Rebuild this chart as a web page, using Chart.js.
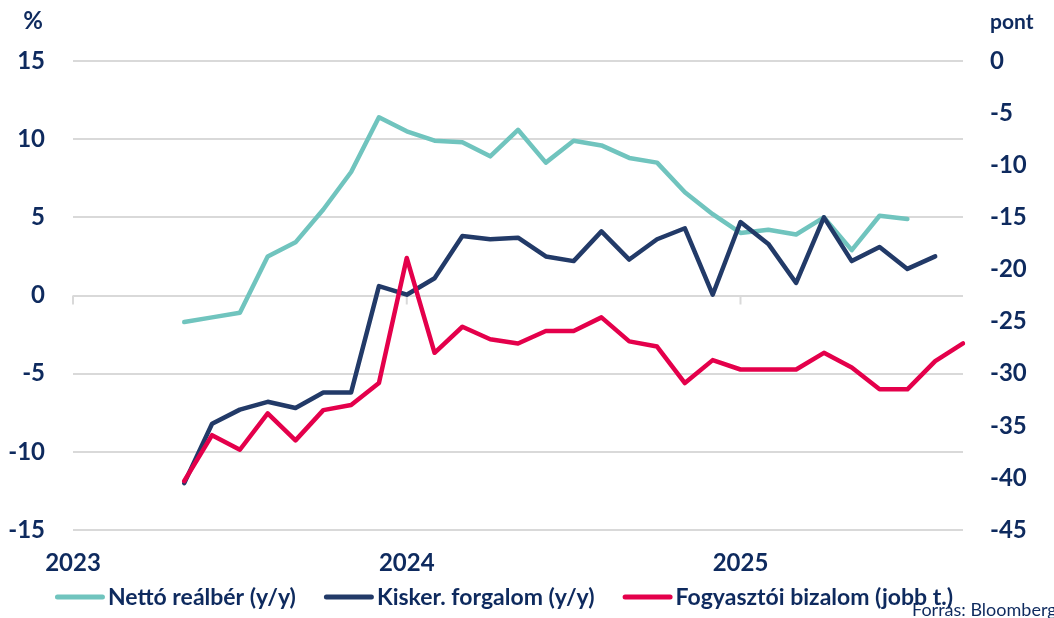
<!DOCTYPE html>
<html>
<head>
<meta charset="utf-8">
<script src="https://cdn.jsdelivr.net/npm/chart.js@4.4.1/dist/chart.umd.min.js"></script>
<style>
  html, body { margin: 0; padding: 0; background: #fff; }
  #wrap { width: 1054px; height: 618px; }
</style>
</head>
<body>
<div id="wrap"><canvas id="chart" width="1054" height="618"></canvas></div>
<script>
// Hónapok: 2023.01 - 2025.09
const months = [
  "2023.01", "2023.02", "2023.03", "2023.04", "2023.05", "2023.06", "2023.07", "2023.08", "2023.09", "2023.10", "2023.11", "2023.12",
  "2024.01", "2024.02", "2024.03", "2024.04", "2024.05", "2024.06", "2024.07", "2024.08", "2024.09", "2024.10", "2024.11", "2024.12",
  "2025.01", "2025.02", "2025.03", "2025.04", "2025.05", "2025.06", "2025.07", "2025.08", "2025.09"
];

// Nettó reálbér (y/y, %)
const realWage = [
  null, null, null, null, -1.7, -1.4, -1.1, 2.5, 3.4, 5.5, 7.9, 11.4,
  10.5, 9.9, 9.8, 8.9, 10.6, 8.5, 9.9, 9.6, 8.8, 8.5, 6.6, 5.2,
  4.0, 4.2, 3.9, 5.0, 2.9, 5.1, 4.9, null, null
];

// Kisker. forgalom (y/y, %)
const retail = [
  null, null, null, null, -12.0, -8.2, -7.3, -6.8, -7.2, -6.2, -6.2, 0.6,
  0.05, 1.1, 3.8, 3.6, 3.7, 2.5, 2.2, 4.1, 2.3, 3.6, 4.3, 0.05,
  4.7, 3.3, 0.8, 5.0, 2.2, 3.1, 1.7, 2.5, null
];

// Fogyasztói bizalom (pont, jobb tengely)
const confidence = [
  null, null, null, null, -40.3, -35.9, -37.3, -33.8, -36.4, -33.5, -33.0, -30.9,
  -18.9, -28.0, -25.5, -26.7, -27.1, -25.9, -25.9, -24.6, -26.9, -27.4, -30.9, -28.7,
  -29.6, -29.6, -29.6, -28.0, -29.4, -31.5, -31.5, -28.8, -27.1
];

const seriesNames = ["Nettó reálbér (y/y)", "Kisker. forgalom (y/y)", "Fogyasztói bizalom (jobb t.)"];
const colors = ["#70C4BE", "#223A68", "#E4004B"];
const navy = "#0E2A5E";
const gridColor = "#D9D9D9";
const fontFamily = "Lato, 'Open Sans', sans-serif";

// tengelyfeliratok, jelmagyarázat, forrás, évhatár jelölők
const decorPlugin = {
  id: "decor",
  beforeDatasetsDraw(chart) {
    const { ctx, scales } = chart;
    const y0 = scales.y.getPixelForValue(0);
    ctx.save();
    ctx.strokeStyle = gridColor;
    ctx.lineWidth = 2;
    months.forEach((m, i) => {
      if (m.endsWith(".01")) {
        const x = scales.x.getPixelForValue(i);
        ctx.beginPath();
        ctx.moveTo(x, y0);
        ctx.lineTo(x, y0 + 9);
        ctx.stroke();
      }
    });
    ctx.restore();
  },
  afterDraw(chart) {
    const { ctx } = chart;
    ctx.save();
    ctx.fillStyle = navy;
    ctx.textBaseline = "middle";
    ctx.font = "bold 24px " + fontFamily;
    ctx.textAlign = "center";
    ctx.fillText("%", 33, 21);
    ctx.font = "bold 21px " + fontFamily;
    ctx.textAlign = "left";
    ctx.fillText("pont", 990, 22);

    // jelmagyarázat
    ctx.font = "bold 23px " + fontFamily;
    const lineLen = 50, textGap = 3, itemGap = 28;
    const widths = chart.data.datasets.map(ds => ctx.measureText(ds.label).width);
    const total = widths.reduce((a, w) => a + lineLen + textGap + w, 0) + itemGap * (widths.length - 1);
    let x = chart.width / 2 - 23 - total / 2;
    const ly = 598;
    chart.data.datasets.forEach((ds, i) => {
      ctx.strokeStyle = ds.borderColor;
      ctx.lineWidth = 5;
      ctx.lineCap = "round";
      ctx.beginPath();
      ctx.moveTo(x + 2.5, ly - 1);
      ctx.lineTo(x + lineLen - 2.5, ly - 1);
      ctx.stroke();
      ctx.fillStyle = navy;
      ctx.fillText(ds.label, x + lineLen + textGap, ly);
      x += lineLen + textGap + widths[i] + itemGap;
    });

    ctx.font = "18px " + fontFamily;
    ctx.textBaseline = "alphabetic";
    ctx.fillText("Forrás: Bloomberg", 912, 616);
    ctx.restore();
  }
};

new Chart(document.getElementById("chart"), {
  type: "line",
  data: {
    labels: months,
    datasets: [
      { label: seriesNames[0], data: realWage, yAxisID: "y", borderColor: colors[0], backgroundColor: colors[0], order: 3 },
      { label: seriesNames[1], data: retail, yAxisID: "y", borderColor: colors[1], backgroundColor: colors[1], order: 2 },
      { label: seriesNames[2], data: confidence, yAxisID: "y2", borderColor: colors[2], backgroundColor: colors[2], order: 1 }
    ]
  },
  options: {
    responsive: false,
    animation: false,
    devicePixelRatio: 1,
    layout: { padding: { top: 61, left: 0, right: 0, bottom: 38 } },
    elements: {
      line: { borderWidth: 4.5, tension: 0, borderJoinStyle: "round", borderCapStyle: "round" },
      point: { radius: 0 }
    },
    scales: {
      x: {
        type: "category",
        offset: false,
        grid: { display: false, drawTicks: false },
        border: { display: false },
        ticks: {
          autoSkip: false,
          maxRotation: 0,
          padding: 19,
          color: navy,
          font: { family: fontFamily, size: 24, weight: "bold" },
          callback: (v, i) => months[i].endsWith(".01") ? months[i].slice(0, 4) : ""
        },
        afterFit: s => { s.height = 50; }
      },
      y: {
        position: "left",
        min: -15,
        max: 15,
        grid: { color: gridColor, lineWidth: 2, drawTicks: false },
        border: { display: false },
        ticks: {
          stepSize: 5,
          padding: 28,
          color: navy,
          font: { family: fontFamily, size: 24, weight: "bold" }
        },
        afterFit: s => { s.width = 73; }
      },
      y2: {
        position: "right",
        min: -45,
        max: 0,
        grid: { display: false, drawTicks: false },
        border: { display: false },
        ticks: {
          stepSize: 5,
          padding: 27,
          color: navy,
          font: { family: fontFamily, size: 24, weight: "bold" }
        },
        afterFit: s => { s.width = 91; }
      }
    },
    plugins: {
      tooltip: { enabled: false },
      legend: { display: false }
    }
  },
  plugins: [decorPlugin]
});
</script>
</body>
</html>
